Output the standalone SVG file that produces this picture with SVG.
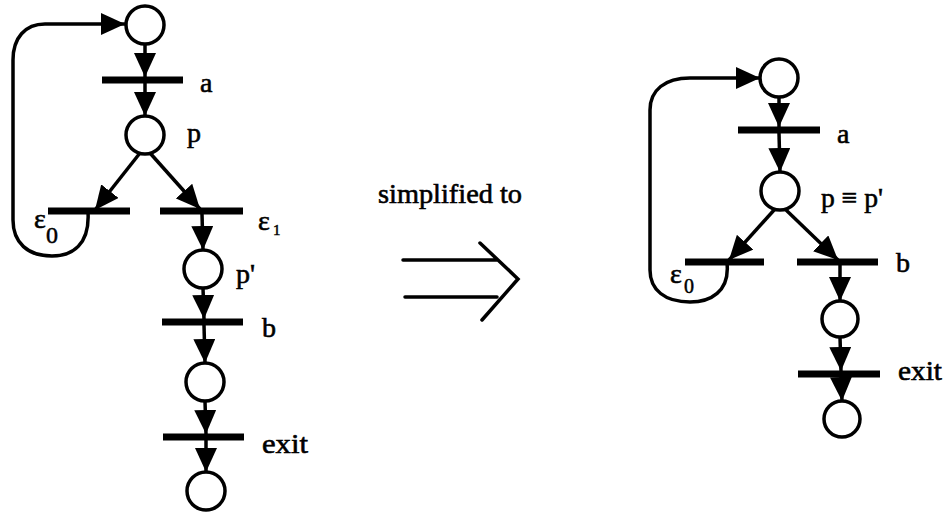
<svg xmlns="http://www.w3.org/2000/svg" width="945" height="514" viewBox="0 0 945 514">
<style>
.place{fill:#fff;stroke:#000;stroke-width:3.5}
.bar{stroke:#000;stroke-width:7;stroke-linecap:butt}
.arc{fill:none;stroke:#000;stroke-width:3.5;marker-end:url(#ah)}
.lbl{font-family:"Liberation Serif","Times New Roman",serif;font-size:28px;fill:#000;stroke:#000;stroke-width:0.6}
.sub{font-family:"Liberation Serif","Times New Roman",serif;fill:#000;stroke:#000;stroke-width:0.5}
.dbl{fill:none;stroke:#000;stroke-width:3.5;stroke-linecap:round;stroke-linejoin:miter}
</style>
<defs>
<marker id="ah" viewBox="0 0 24 22" refX="24" refY="11" markerWidth="24" markerHeight="22" markerUnits="userSpaceOnUse" orient="auto">
<path d="M0,0 L24,11 L0,22 z" fill="#000"/>
</marker>
</defs>
<rect width="945" height="514" fill="#fff"/>

<g id="connectors">
<path class="arc" d="M145,44 L145,77"/>
<path class="arc" d="M145,83 L145,116"/>
<path class="arc" d="M140,153 L95,210"/>
<path class="arc" d="M150,153 L200,209"/>
<path class="arc" d="M202,214 L203,250"/>
<path class="arc" d="M203,288 L204,319"/>
<path class="arc" d="M204,325 L205,363"/>
<path class="arc" d="M205,401 L206,434"/>
<path class="arc" d="M206,440 L206,472"/>
<path class="arc" d="M88,212 C90,245 72,256 52,256 C28,256 13,243 13,220 L13,60 C13,38 25,24 45,24 L125,24"/>
<path class="arc" d="M779,97 L779,127"/>
<path class="arc" d="M779,133 L780,172"/>
<path class="arc" d="M775,209 L729,260"/>
<path class="arc" d="M785,209 L838,260"/>
<path class="arc" d="M840,265 L840,301"/>
<path class="arc" d="M840,337 L841,371"/>
<path class="arc" d="M841,377 L842,401"/>
<path class="arc" d="M727,263 C730,292 710,302 690,302 C665,302 650,290 650,270 L650,110 C650,90 665,78 690,78 L760,78"/>
</g>

<g id="L_top"><circle class="place" cx="145" cy="25" r="19"/></g>
<g id="L_a"><line class="bar" x1="102" y1="80" x2="183" y2="80"/><text class="lbl" x="200" y="92">a</text></g>
<g id="L_p"><circle class="place" cx="145" cy="135" r="19"/><text class="lbl" x="187" y="142">p</text></g>
<g id="L_e0"><line class="bar" x1="48" y1="211" x2="130" y2="211"/><text class="lbl" x="34" y="228" font-size="30">ε</text><text class="sub" x="46" y="243" font-size="24">0</text></g>
<g id="L_e1"><line class="bar" x1="160" y1="211" x2="243" y2="211"/><text class="lbl" x="258" y="230">ε</text><text class="sub" x="273" y="235" font-size="15">1</text></g>
<g id="L_pp"><circle class="place" cx="203" cy="269" r="19"/><text class="lbl" x="236" y="283">p'</text></g>
<g id="L_b"><line class="bar" x1="162" y1="322" x2="243" y2="322"/><text class="lbl" x="262" y="337">b</text></g>
<g id="L_mid"><circle class="place" cx="205" cy="382" r="19"/></g>
<g id="L_exit"><line class="bar" x1="163" y1="437" x2="244" y2="437"/><text class="lbl" x="262" y="453" textLength="46" lengthAdjust="spacingAndGlyphs">exit</text></g>
<g id="L_end"><circle class="place" cx="206" cy="491" r="19"/></g>

<g id="arrow">
<text class="lbl" x="378" y="203" textLength="144" lengthAdjust="spacingAndGlyphs">simplified to</text>
<path class="dbl" d="M403,260 L497,260 M405,297 L497,297 M480,243 L518,279 L482,320"/>
</g>

<g id="R_top"><circle class="place" cx="779" cy="78" r="19"/></g>
<g id="R_a"><line class="bar" x1="738" y1="130" x2="820" y2="130"/><text class="lbl" x="837" y="143">a</text></g>
<g id="R_p"><circle class="place" cx="780" cy="191" r="19"/><text class="lbl" x="821" y="207" textLength="62" lengthAdjust="spacingAndGlyphs">p ≡ p'</text></g>
<g id="R_e0"><line class="bar" x1="685" y1="262" x2="764" y2="262"/><text class="lbl" x="670" y="283">ε</text><text class="sub" x="684" y="293" font-size="20">0</text></g>
<g id="R_b"><line class="bar" x1="797" y1="262" x2="878" y2="262"/><text class="lbl" x="896" y="272">b</text></g>
<g id="R_mid"><circle class="place" cx="840" cy="319" r="18"/></g>
<g id="R_exit"><line class="bar" x1="798" y1="374" x2="880" y2="374"/><text class="lbl" x="898" y="380" textLength="44" lengthAdjust="spacingAndGlyphs">exit</text></g>
<g id="R_end"><circle class="place" cx="842" cy="419" r="18"/></g>
</svg>
